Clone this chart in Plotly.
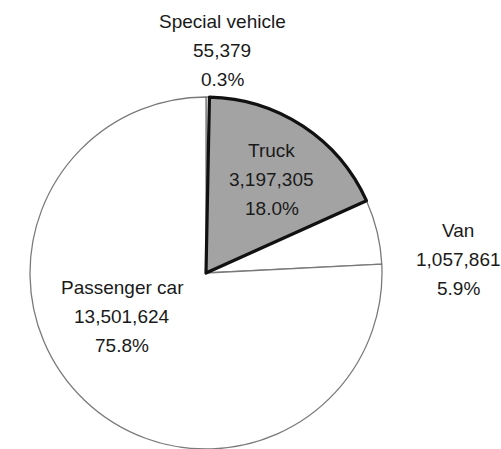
import plotly.graph_objects as go

# Vehicle registrations by type
categories = ["Special vehicle", "Truck", "Van", "Passenger car"]
counts = [55379, 3197305, 1057861, 13501624]
slice_colors = ["#ffffff", "#a3a3a3", "#ffffff", "#ffffff"]
edge_colors = ["#7a7a7a", "#7a7a7a", "#7a7a7a", "#7a7a7a"]
edge_widths = [1.3, 1.3, 1.3, 1.3]
highlight = "Truck"

# Label anchor (paper x, top-line y in px from top) for each category
label_anchor_x = [222, 271.5, 458, 122]
label_anchor_y = [21.5, 150, 230, 287]
line_gap = 29

W, H = 501, 449
pie_domain = dict(x=[30 / W, 382 / W], y=[0, 352 / H])

fig = go.Figure()
fig.add_trace(go.Pie(
    labels=categories,
    values=counts,
    sort=False,
    direction="clockwise",
    rotation=0,
    textinfo="none",
    hoverinfo="label+value+percent",
    marker=dict(colors=slice_colors,
                line=dict(color=edge_colors, width=edge_widths)),
    domain=pie_domain,
    showlegend=False,
))

# Heavy outline on the highlighted slice, drawn on top so neighbours don't cover it
fig.add_trace(go.Pie(
    labels=categories,
    values=counts,
    sort=False,
    direction="clockwise",
    rotation=0,
    textinfo="none",
    hoverinfo="skip",
    marker=dict(colors=["rgba(0,0,0,0)"] * len(categories),
                line=dict(color=["#111111" if c == highlight else "rgba(0,0,0,0)" for c in categories],
                          width=[3.2 if c == highlight else 0 for c in categories])),
    domain=pie_domain,
    showlegend=False,
))

total = sum(counts)
annotations = []
for name, val, ax, ay in zip(categories, counts, label_anchor_x, label_anchor_y):
    lines = [name, f"{val:,}", f"{val / total:.1%}"]
    for k, line in enumerate(lines):
        annotations.append(dict(
            text=line,
            x=ax / W,
            y=1 - (ay + k * line_gap) / H,
            xref="paper", yref="paper",
            xanchor="center", yanchor="middle",
            showarrow=False,
            font=dict(family="Liberation Sans, Arial, sans-serif", size=19, color="#1a1a1a"),
        ))

fig.update_layout(
    width=W, height=H,
    margin=dict(l=0, r=0, t=0, b=0),
    paper_bgcolor="white",
    plot_bgcolor="white",
    annotations=annotations,
)

fig.write_html("out.html")
